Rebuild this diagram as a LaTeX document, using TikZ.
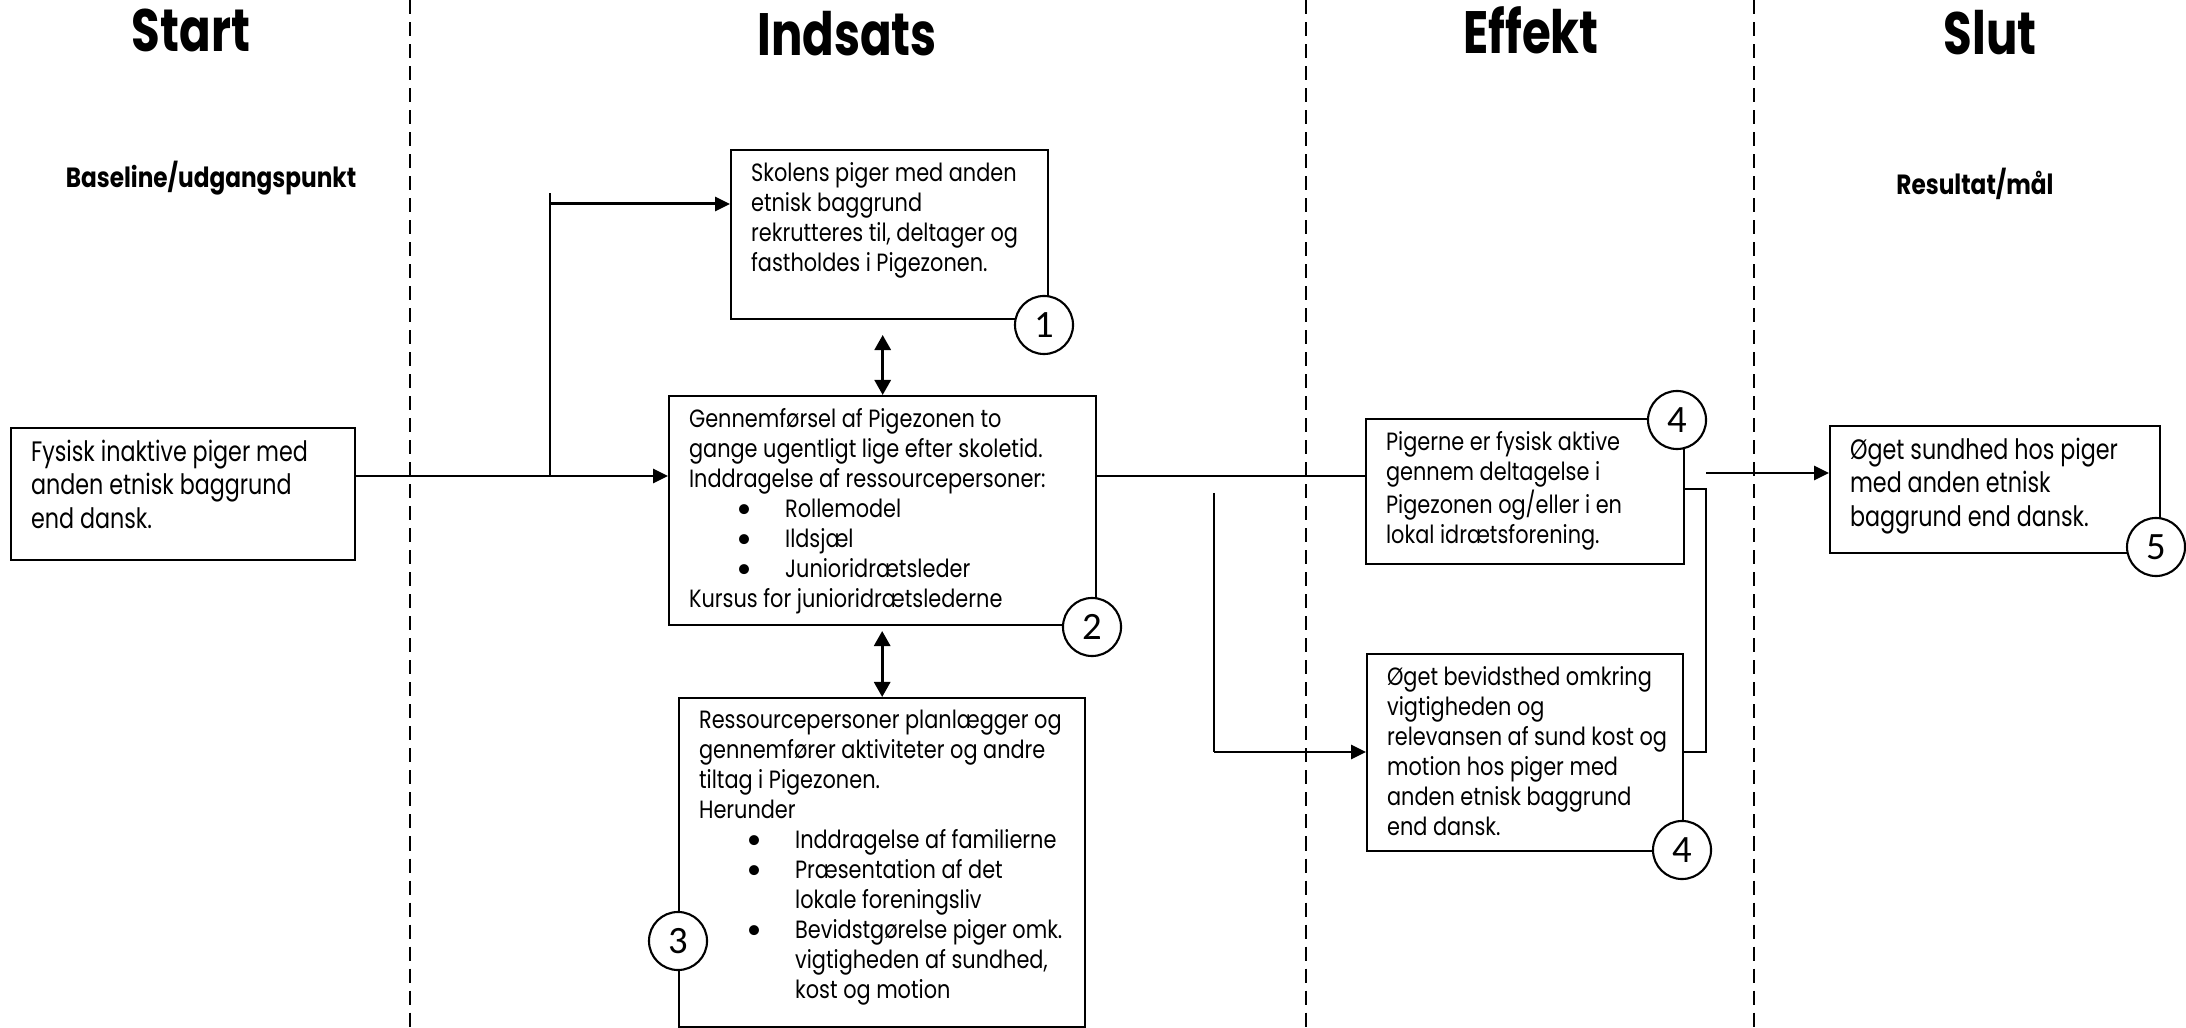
\documentclass[tikz,border=0pt]{standalone}
\usepackage{fontspec}
\setmainfont{Poppins}[FakeStretch=0.835]
\newfontfamily\bigfont{Poppins}[FakeStretch=0.79]
\newfontfamily\headfont{Poppins}[FakeStretch=0.78]
\newfontfamily\numfont{Carlito}
\usetikzlibrary{calc,arrows.meta}

\newcommand{\boxtxt}[3]{\makebox[\dimexpr#1-0.4cm\relax][l]{\parbox[c][\dimexpr#2-0.24cm\relax][t]{12cm}{\raggedright #3}}}
\newcommand{\bul}[1]{\hspace*{0.48cm}\makebox[0.48cm][l]{\numfont\fontsize{8pt}{8pt}\selectfont\textbullet}#1}
\newcommand{\ind}{\hspace*{0.96cm}}

\tikzset{
  box/.style={draw, line width=0.6pt, inner xsep=0.2cm, inner ysep=0.12cm, anchor=north west,
    font=\fontsize{7.1pt}{8.54pt}\selectfont},
  bigbox/.style={box, font=\bigfont\fontsize{8pt}{9.5pt}\selectfont},
  num/.style={circle, draw, line width=0.6pt, fill=white, minimum size=0.58cm, inner sep=0pt,
    font=\numfont\fontsize{11pt}{11pt}\selectfont},
  head/.style={anchor=base, font=\headfont\bfseries\fontsize{17pt}{17pt}\selectfont},
  sub/.style={anchor=base, font=\bfseries\fontsize{7.9pt}{8pt}\selectfont},
  divider/.style={line width=0.45pt, dash pattern=on 0.14cm off 0.08cm},
  link/.style={line width=0.45pt},
  main/.style={line width=0.85pt},
  arr/.style={main, -{Triangle[length=0.15cm,width=0.14cm]}},
  darr/.style={main, {Triangle[length=0.15cm,width=0.16cm]}-{Triangle[length=0.15cm,width=0.16cm]}}
}

\begin{document}
\begin{tikzpicture}[x=0.01cm, y=-0.01cm]
    \fill[white] (0,0) rectangle (2186,1028);
    \useasboundingbox (0,0) rectangle (2186,1028);
    \foreach \x in {410,1306,1754}
        \draw[divider] (\x,0) -- (\x,1028);

    \node[head] (tStart) at (191,52) {Start};
    \node[head] (tIndsats) at (847,56) {Indsats};
    \node[head] (tEffekt) at (1531,54) {Effekt};
    \node[head] (tSlut) at (1990,55) {Slut};
    \node[sub] (sBase) at (211,188) {Baseline/udgangspunkt};
    \node[sub] (sRes) at (1975,195) {Resultat/mål};

    \node[bigbox] (bA) at (10,427) {\boxtxt{3.44cm}{1.32cm}{Fysisk inaktive piger med\\anden etnisk baggrund\\end dansk.}};
    \node[box] (b1) at (730,149) {\boxtxt{3.17cm}{1.69cm}{Skolens piger med anden\\etnisk baggrund\\rekrutteres til, deltager og\\fastholdes i Pigezonen.}};
    \node[box] (b2) at (668,395) {\boxtxt{4.27cm}{2.29cm}{Gennemførsel af Pigezonen to\\gange ugentligt lige efter skoletid.\\Inddragelse af ressourcepersoner:\\\bul{Rollemodel}\\\bul{Ildsjæl}\\\bul{Junioridrætsleder}\\Kursus for junioridrætslederne}};
    \node[box] (b3) at (678,697) {\boxtxt{4.06cm}{3.29cm}{Ressourcepersoner planlægger og\\gennemfører aktiviteter og andre\\tiltag i Pigezonen.\\Herunder\\\bul{Inddragelse af familierne}\\\bul{Præsentation af det}\\\ind lokale foreningsliv\\\bul{Bevidstgørelse piger omk.}\\\ind vigtigheden af sundhed,\\\ind kost og motion}};
    \node[box] (b4a) at (1365,418) {\boxtxt{3.18cm}{1.45cm}{Pigerne er fysisk aktive\\gennem deltagelse i\\Pigezonen og/eller i en\\lokal idrætsforening.}};
    \node[box] (b4b) at (1366,653) {\boxtxt{3.16cm}{1.97cm}{Øget bevidsthed omkring\\vigtigheden og\\relevansen af sund kost og\\motion hos piger med\\anden etnisk baggrund\\end dansk.}};
    \node[bigbox] (b5) at (1829,425) {\boxtxt{3.30cm}{1.27cm}{Øget sundhed hos piger\\med anden etnisk\\baggrund end dansk.}};

    \coordinate (j1) at (550,476);
    \coordinate (j1t) at (550,193);
    \coordinate (j1a) at (550,204);
    \draw[arr] (bA.east |- j1) -- (b2.west |- j1);
    \draw[link] (j1) -- (j1t);
    \draw[arr] (j1a) -- (b1.west |- j1a);
    \draw[darr] ($(b2.north)+(0,-60)$) -- (b2.north);
    \draw[darr] ($(b3.north)+(0,-66)$) -- (b3.north);
    \draw[main] (b2.east |- j1) -- (b4a.west |- j1);

    \coordinate (j2) at (1214,493);
    \coordinate (j3) at (1214,752);
    \draw[link] (j2) -- (j3);
    \draw[arr] (j3) -- (b4b.west |- j3);
    \coordinate (k0) at (1706,473);
    \coordinate (k1) at (1706,489);
    \coordinate (k2) at (1706,752);
    \draw[link] (b4a.east |- k1) -- (k1) -- (k2) -- (b4b.east |- k2);
    \draw[arr] (k0) -- (b5.west |- k0);

    \node[num] (n1) at (1044,325) {1};
    \node[num] (n2) at (1092,627) {2};
    \node[num] (n3) at (678,941) {3};
    \node[num] (n4a) at (1677,420) {4};
    \node[num] (n4b) at (1682,850) {4};
    \node[num] (n5) at (2156,547) {5};
\end{tikzpicture}
\end{document}
